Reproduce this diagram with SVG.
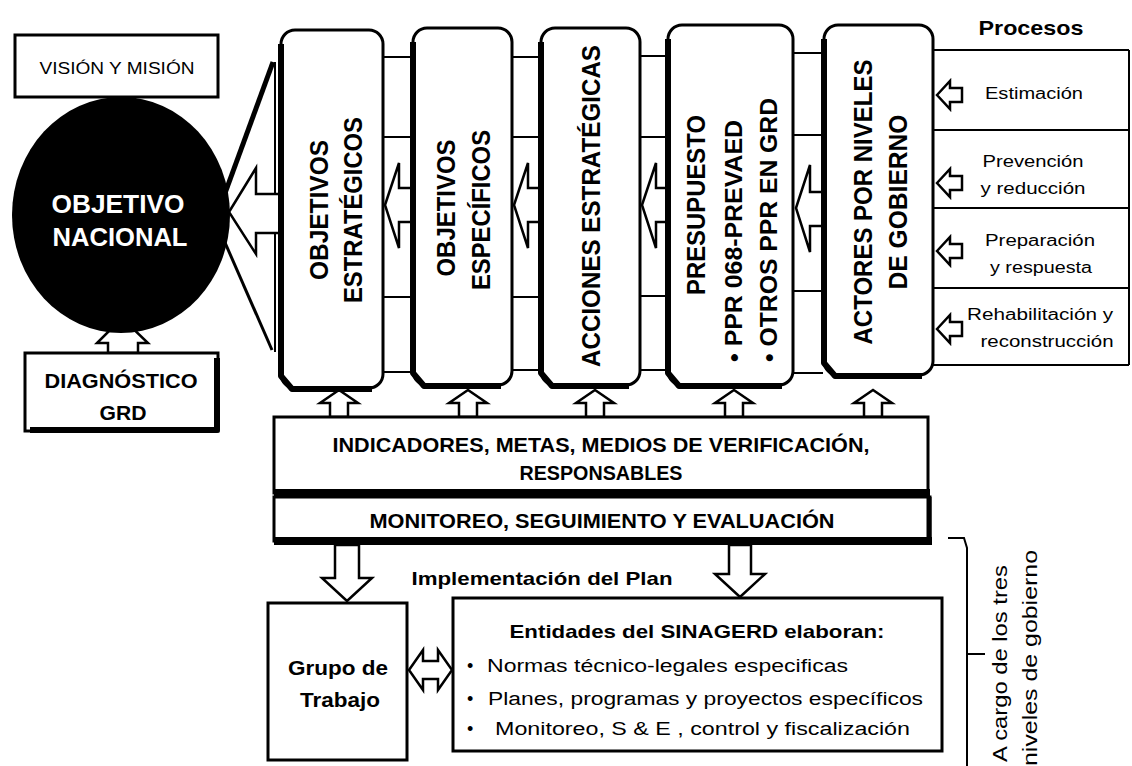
<svg xmlns="http://www.w3.org/2000/svg" width="1132" height="766" viewBox="0 0 1132 766">
<style>
.box{fill:#fff;stroke:#000;stroke-width:3}
.thick{fill:none;stroke:#000;stroke-width:6;stroke-linejoin:round}
.ln{fill:none;stroke:#000;stroke-width:2}
.arr{fill:#fff;stroke:#000;stroke-width:2.5;stroke-linejoin:miter}
.t{font-family:"Liberation Sans",Arial,sans-serif;fill:#000}
.b{font-weight:bold}
.c{text-anchor:middle}
.v{font-size:25px;font-weight:bold;text-anchor:middle}
.p{font-size:16px;text-anchor:middle}
</style>
<rect width="1132" height="766" fill="#fff"/>

<g id="connectors">
  <!-- arrow Vision -> circle (partly under circle) -->
  <path class="arr" d="M110,97 L135,97 L135,104 L150,104 L122,128 L95,104 L110,104 Z"/>
  <!-- arrow Diagnostico -> circle -->
  <path class="arr" d="M108,353 L108,343 L97,343 L122,318 L148,343 L138,343 L138,353 Z"/>
  <!-- fan lines from circle to column 1 -->
  <line x1="224" y1="196" x2="273" y2="62" stroke="#000" stroke-width="5"/>
  <line x1="223" y1="238" x2="272" y2="350" stroke="#000" stroke-width="3"/>
  <line x1="275" y1="62" x2="275" y2="352" stroke="#000" stroke-width="2"/>
  <!-- band lines between columns -->
  <path class="ln" d="M383,57 H412 M383,137 H412 M383,297 H412 M383,372 H412
                      M512,57 H540 M512,137 H540 M512,297 H540 M512,370 H540
                      M640,56 H667 M640,137 H667 M640,296 H667 M640,370 H667
                      M793,53 H823 M793,135 H823 M793,291 H823 M793,373 H823"/>
  <!-- process table -->
  <path class="ln" d="M933,50 H1129 M933,130 H1129 M933,208 H1129 M933,288 H1129 M933,365 H1129 M1129,50 V365"/>
  <!-- left arrows between columns -->
  <path class="arr" d="M229,212 L256,168 L256,194 L280,194 L280,233 L256,233 L256,254 Z"/>
  <path class="arr" d="M385,205 L399,163 L399,188 L412,188 L412,222 L399,222 L399,248 Z"/>
  <path class="arr" d="M514,205 L528,163 L528,188 L540,188 L540,222 L528,222 L528,248 Z"/>
  <path class="arr" d="M642,205 L656,163 L656,188 L667,188 L667,222 L656,222 L656,248 Z"/>
  <path class="arr" d="M796,208 L810,165 L810,192 L823,192 L823,226 L810,226 L810,252 Z"/>
  <!-- process arrows -->
  <path class="arr" d="M937,95 L950,81 L950,88 L962,88 L962,102 L950,102 L950,109 Z"/>
  <path class="arr" d="M937,183 L950,169 L950,176 L962,176 L962,190 L950,190 L950,197 Z"/>
  <path class="arr" d="M937,251 L950,237 L950,244 L962,244 L962,258 L950,258 L950,265 Z"/>
  <path class="arr" d="M937,329 L950,315 L950,322 L962,322 L962,336 L950,336 L950,343 Z"/>
  <!-- up arrows from indicators to columns -->
  <path class="arr" d="M330,417 L330,403 L320,403 L339,390 L358,403 L348,403 L348,417 Z"/>
  <path class="arr" d="M459,417 L459,403 L449,403 L468,390 L487,403 L477,403 L477,417 Z"/>
  <path class="arr" d="M586,417 L586,403 L576,403 L595,390 L614,403 L604,403 L604,417 Z"/>
  <path class="arr" d="M725,417 L725,403 L715,403 L734,390 L753,403 L743,403 L743,417 Z"/>
  <path class="arr" d="M864,417 L864,403 L854,403 L873,390 L892,403 L882,403 L882,417 Z"/>
  <!-- down arrows -->
  <path class="arr" d="M335,545 L359,545 L359,578 L372,578 L347,601 L322,578 L335,578 Z"/>
  <path class="arr" d="M729,545 L751,545 L751,574 L765,574 L740,597 L715,574 L729,574 Z"/>
  <!-- double arrow -->
  <path class="arr" d="M409,670 L423,650 L423,661 L438,661 L438,650 L452,670 L438,690 L438,679 L423,679 L423,690 Z"/>
  <!-- bracket -->
  <path class="ln" d="M948,538 H964 L967,548 V766 M967,654 H985"/>
</g>

<g id="vision">
  <rect class="box" x="15" y="35" width="203" height="62"/>
  <text class="t c" x="117" y="74" font-size="16" textLength="155" lengthAdjust="spacingAndGlyphs">VISIÓN Y MISIÓN</text>
</g>

<g id="objetivo-nacional">
  <ellipse cx="121" cy="215" rx="109" ry="118" fill="#000"/>
  <text class="t b c" x="118" y="213" font-size="26" fill="#fff" style="fill:#fff" textLength="133" lengthAdjust="spacingAndGlyphs">OBJETIVO</text>
  <text class="t b c" x="120" y="246" font-size="26" style="fill:#fff" textLength="135" lengthAdjust="spacingAndGlyphs">NACIONAL</text>
</g>

<g id="diagnostico">
  <rect class="box" x="25" y="353" width="193" height="78" stroke-width="2.5"/>
  <path class="thick" d="M217,358 V430 H30" stroke-width="6"/>
  <text class="t b c" x="121" y="388" font-size="21" textLength="153" lengthAdjust="spacingAndGlyphs">DIAGNÓSTICO</text>
  <text class="t b c" x="123" y="420" font-size="21" textLength="47" lengthAdjust="spacingAndGlyphs">GRD</text>
</g>

<g id="objetivos-estrategicos">
  <rect class="box" x="281" y="30" width="102" height="358" rx="14"/>
  <path class="thick" d="M281,44 V376 L292,389 H372"/>
  <text class="t v" transform="translate(328,210) rotate(-90)" textLength="140" lengthAdjust="spacingAndGlyphs">OBJETIVOS</text>
  <text class="t v" transform="translate(362,210) rotate(-90)" textLength="186" lengthAdjust="spacingAndGlyphs">ESTRATÉGICOS</text>
</g>

<g id="objetivos-especificos">
  <rect class="box" x="413" y="28" width="99" height="357" rx="14"/>
  <path class="thick" d="M413,42 V373 L424,386 H501"/>
  <text class="t v" transform="translate(455,208) rotate(-90)" textLength="137" lengthAdjust="spacingAndGlyphs">OBJETIVOS</text>
  <text class="t v" transform="translate(490,210) rotate(-90)" textLength="160" lengthAdjust="spacingAndGlyphs">ESPECÍFICOS</text>
</g>

<g id="acciones-estrategicas">
  <rect class="box" x="541" y="28" width="99" height="357" rx="14"/>
  <path class="thick" d="M541,42 V373 L552,386 H629"/>
  <text class="t v" transform="translate(600,206) rotate(-90)" textLength="322" lengthAdjust="spacingAndGlyphs">ACCIONES ESTRATÉGICAS</text>
</g>

<g id="presupuesto">
  <rect class="box" x="668" y="25" width="125" height="360" rx="14"/>
  <path class="thick" d="M668,39 V373 L679,386 H782"/>
  <text class="t v" transform="translate(705,205) rotate(-90)" textLength="180" lengthAdjust="spacingAndGlyphs">PRESUPUESTO</text>
  <text class="t b" font-size="24" transform="translate(742,362) rotate(-90)" textLength="242" lengthAdjust="spacingAndGlyphs">• PPR 068-PREVAED</text>
  <text class="t b" font-size="24" transform="translate(777,362) rotate(-90)" textLength="264" lengthAdjust="spacingAndGlyphs">• OTROS PPR EN GRD</text>
</g>

<g id="actores">
  <rect class="box" x="824" y="25" width="109" height="350" rx="14"/>
  <path class="thick" d="M824,39 V363 L835,376 H922"/>
  <text class="t v" transform="translate(872,202) rotate(-90)" textLength="285" lengthAdjust="spacingAndGlyphs">ACTORES POR NIVELES</text>
  <text class="t v" transform="translate(907,202) rotate(-90)" textLength="175" lengthAdjust="spacingAndGlyphs">DE GOBIERNO</text>
</g>

<g id="procesos">
  <text class="t b c" x="1031" y="35" font-size="21" textLength="105" lengthAdjust="spacingAndGlyphs">Procesos</text>
  <text class="t p" x="1034" y="99" textLength="98" lengthAdjust="spacingAndGlyphs">Estimación</text>
  <text class="t p" x="1033" y="167" textLength="101" lengthAdjust="spacingAndGlyphs">Prevención</text>
  <text class="t p" x="1033" y="194" textLength="105" lengthAdjust="spacingAndGlyphs">y reducción</text>
  <text class="t p" x="1040" y="246" textLength="110" lengthAdjust="spacingAndGlyphs">Preparación</text>
  <text class="t p" x="1041" y="273" textLength="102" lengthAdjust="spacingAndGlyphs">y respuesta</text>
  <text class="t p" x="1040" y="320" textLength="146" lengthAdjust="spacingAndGlyphs">Rehabilitación y</text>
  <text class="t p" x="1047" y="347" textLength="133" lengthAdjust="spacingAndGlyphs">reconstrucción</text>
</g>

<g id="indicadores">
  <rect class="box" x="274" y="417" width="654" height="76"/>
  <line x1="274" y1="493" x2="930" y2="493" stroke="#000" stroke-width="8"/>
  <text class="t b c" x="601" y="452" font-size="20" textLength="537" lengthAdjust="spacingAndGlyphs">INDICADORES, METAS, MEDIOS DE VERIFICACIÓN,</text>
  <text class="t b c" x="601" y="480" font-size="20" textLength="163" lengthAdjust="spacingAndGlyphs">RESPONSABLES</text>
</g>

<g id="monitoreo">
  <rect class="box" x="274" y="497" width="656" height="44"/>
  <line x1="274" y1="541" x2="932" y2="541" stroke="#000" stroke-width="8"/>
  <line x1="929" y1="497" x2="929" y2="545" stroke="#000" stroke-width="5"/>
  <text class="t b c" x="602" y="528" font-size="20" textLength="465" lengthAdjust="spacingAndGlyphs">MONITOREO, SEGUIMIENTO Y EVALUACIÓN</text>
</g>

<g id="implementacion">
  <text class="t b c" x="542" y="585" font-size="19" textLength="261" lengthAdjust="spacingAndGlyphs">Implementación del Plan</text>
</g>

<g id="grupo-trabajo">
  <rect class="box" x="268" y="603" width="139" height="157"/>
  <text class="t b c" x="338" y="675" font-size="20" textLength="100" lengthAdjust="spacingAndGlyphs">Grupo de</text>
  <text class="t b c" x="340" y="707" font-size="20" textLength="80" lengthAdjust="spacingAndGlyphs">Trabajo</text>
</g>

<g id="entidades">
  <rect class="box" x="453" y="598" width="489" height="153"/>
  <text class="t b c" x="697" y="638" font-size="19" textLength="375" lengthAdjust="spacingAndGlyphs">Entidades  del SINAGERD elaboran:</text>
  <text class="t" x="467" y="672" font-size="18">•</text>
  <text class="t" x="487" y="672" font-size="18" textLength="361" lengthAdjust="spacingAndGlyphs">Normas técnico-legales especificas</text>
  <text class="t" x="467" y="705" font-size="18">•</text>
  <text class="t" x="488" y="705" font-size="18" textLength="435" lengthAdjust="spacingAndGlyphs">Planes, programas y proyectos específicos</text>
  <text class="t" x="467" y="735" font-size="18">•</text>
  <text class="t" x="495" y="735" font-size="18" textLength="415" lengthAdjust="spacingAndGlyphs">Monitoreo, S &amp; E , control y fiscalización</text>
</g>

<g id="a-cargo">
  <text class="t" font-size="21" transform="translate(1007,762) rotate(-90)" textLength="197" lengthAdjust="spacingAndGlyphs">A cargo de los tres</text>
  <text class="t" font-size="21" transform="translate(1037,766) rotate(-90)" textLength="216" lengthAdjust="spacingAndGlyphs">niveles de gobierno</text>
</g>
</svg>
